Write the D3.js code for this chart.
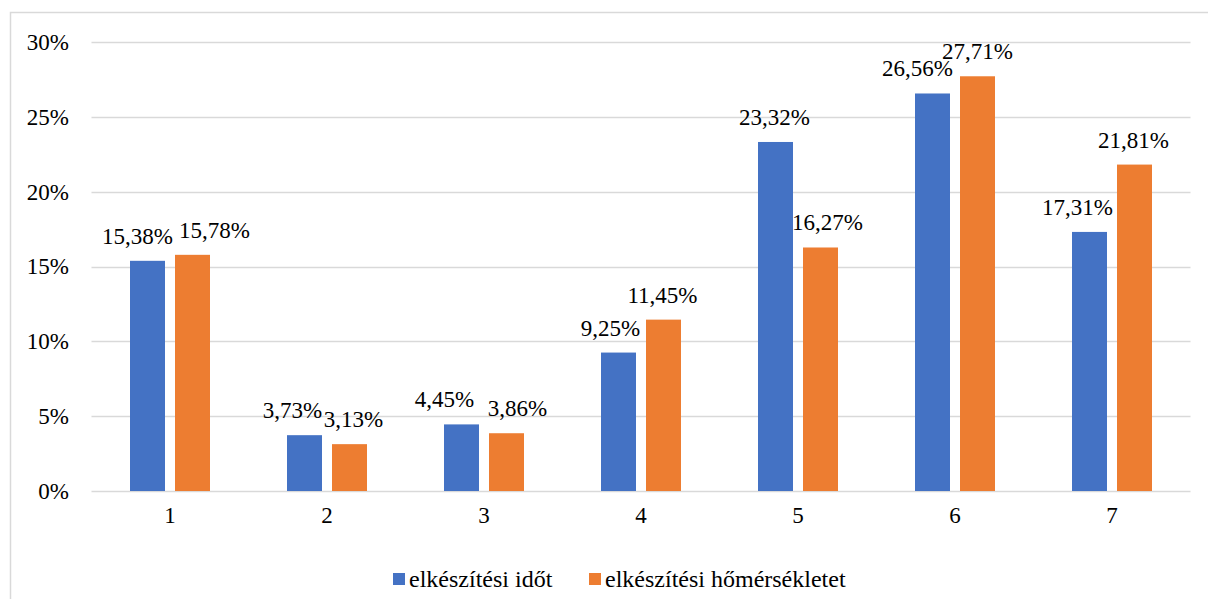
<!DOCTYPE html>
<html>
<head>
<meta charset="utf-8">
<script src="https://cdn.jsdelivr.net/npm/d3@7"></script>
<style>
  html, body { margin: 0; padding: 0; background: #fff; }
  svg { display: block; }
  svg text { font-family: "Liberation Serif", "Times New Roman", Times, serif !important; }
</style>
</head>
<body>
<svg id="chart" width="1208" height="599"></svg>
<script>
// Categories and the two series (shares, in percent)
const categories = ["1", "2", "3", "4", "5", "6", "7"];
const seriesNames = ["elkészítési időt", "elkészítési hőmérsékletet"];
const idot = [15.38, 3.73, 4.45, 9.25, 23.32, 26.56, 17.31];
const homersekletet = [15.78, 3.13, 3.86, 11.45, 16.27, 27.71, 21.81];
const yTicks = [0, 5, 10, 15, 20, 25, 30];

// Horizontal nudges of the value labels, so neighbouring labels don't collide
const labelNudge = [
  [-10, 22], [-12, 4], [-17, 11], [-8, -1], [-1, 7], [-15, 0], [-12, -1]
];

const colors = ["#4472C4", "#ED7D31"];
const seriesValues = [idot, homersekletet];
const fontSize = 23;

const svg = d3.select("#chart");
const W = 1208, H = 599;

// outer chart border
svg.append("rect")
  .attr("x", 10.5).attr("y", 12.5)
  .attr("width", W + 10).attr("height", H + 10)
  .attr("fill", "none").attr("stroke", "#d9d9d9").attr("stroke-width", 1.5);

const plotLeft = 91.5, plotRight = 1190.5, plotTop = 42, plotBottom = 491;

const x0 = d3.scaleBand().domain(categories).range([plotLeft, plotRight]).padding(0);
const bw = x0.bandwidth();
const x1 = d3.scaleBand().domain(d3.range(2))
  .range([bw / 2 - 40, bw / 2 + 40]).paddingInner(10 / 45).paddingOuter(0);
const y = d3.scaleLinear().domain([0, 30]).range([plotBottom, plotTop]);

// gridlines
svg.append("g").selectAll("line").data(yTicks).join("line")
  .attr("x1", plotLeft).attr("x2", plotRight)
  .attr("y1", d => Math.round(y(d)) + 0.5).attr("y2", d => Math.round(y(d)) + 0.5)
  .attr("stroke", "#d9d9d9").attr("stroke-width", 1.5);

// y axis labels
const yAxis = d3.axisLeft(y).tickValues(yTicks).tickFormat(d => d + "%").tickSize(0).tickPadding(0);
const gy = svg.append("g").attr("transform", "translate(69,0)").call(yAxis);
gy.select(".domain").remove();
gy.selectAll("text").attr("font-size", fontSize).attr("fill", "#000");

// x axis labels
const xAxis = d3.axisBottom(x0).tickSize(0).tickPadding(0);
const gx = svg.append("g").attr("transform", `translate(0,${plotBottom + 16})`).call(xAxis);
gx.select(".domain").remove();
gx.selectAll("text").attr("font-size", fontSize).attr("fill", "#000");

// bars
const groups = svg.append("g").selectAll("g").data(categories).join("g")
  .attr("transform", d => `translate(${x0(d)},0)`);

groups.selectAll("rect")
  .data((c, i) => seriesValues.map((vals, s) => ({ s, v: vals[i] })))
  .join("rect")
  .attr("x", d => x1(d.s))
  .attr("width", x1.bandwidth())
  .attr("y", d => y(d.v))
  .attr("height", d => y(0) - y(d.v))
  .attr("fill", d => colors[d.s]);

// value labels
const fmt = v => v.toFixed(2).replace(".", ",") + "%";
groups.selectAll("text.val")
  .data((c, i) => seriesValues.map((vals, s) => ({ s, v: vals[i], i })))
  .join("text")
  .attr("class", "val")
  .attr("x", d => x1(d.s) + x1.bandwidth() / 2 + labelNudge[d.i][d.s])
  .attr("y", d => y(d.v) - 17)
  .attr("text-anchor", "middle")
  .attr("font-size", fontSize)
  .attr("fill", "#000")
  .text(d => fmt(d.v));

// legend
const legendX = [393, 589];
const lg = svg.append("g").selectAll("g").data(seriesNames).join("g")
  .attr("transform", (d, i) => `translate(${legendX[i]},573)`);
lg.append("rect").attr("width", 12).attr("height", 12)
  .attr("fill", (d, i) => colors[i]);
lg.append("text").attr("x", 16).attr("y", 14)
  .attr("font-size", 24).attr("fill", "#000")
  .text(d => d);
</script>
</body>
</html>
